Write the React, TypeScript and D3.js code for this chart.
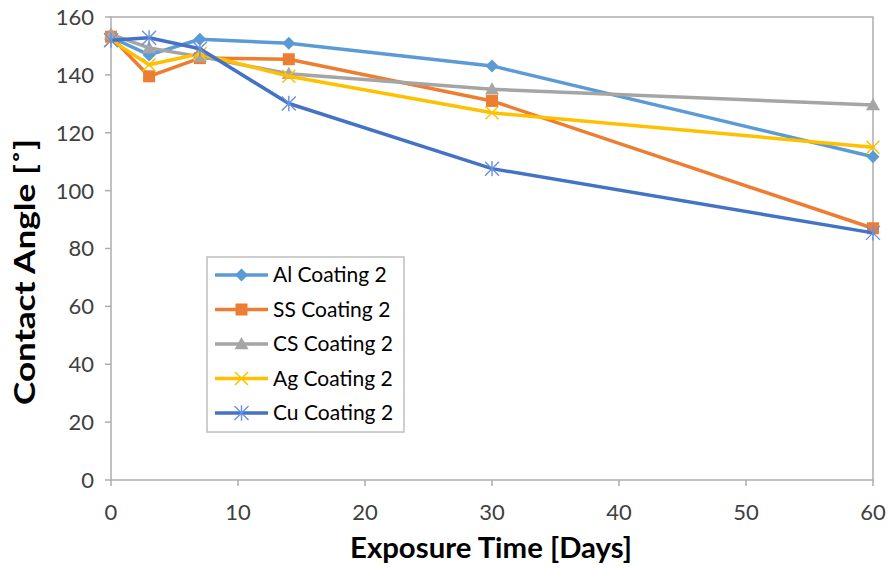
import React from "react";
import * as d3 from "d3";

const days = [0, 3, 7, 14, 30, 60];
const alCoating = [153, 146.9, 152.3, 150.9, 143.1, 111.7];
const ssCoating = [153.2, 139.5, 145.8, 145.4, 131, 87];
const csCoating = [154, 149.3, 146.3, 140.4, 135, 129.6];
const agCoating = [152, 143.5, 147.3, 139.5, 126.9, 115];
const cuCoating = [152, 152.8, 149, 130.1, 107.6, 85.4];

const seriesNames = ["Al Coating 2", "SS Coating 2", "CS Coating 2", "Ag Coating 2", "Cu Coating 2"];
const seriesColors = ["#5B9BD5", "#ED7D31", "#A5A5A5", "#FFC000", "#4472C4"];
const seriesMarkers = ["diamond", "square", "triangle", "x", "asterisk"];
const seriesValues = [alCoating, ssCoating, csCoating, agCoating, cuCoating];

const xTicks = [0, 10, 20, 30, 40, 50, 60];
const yTicks = [0, 20, 40, 60, 80, 100, 120, 140, 160];

const W = 889;
const H = 569;
const plot = { left: 111, right: 873, top: 17, bottom: 480 };
const FONT = "Lato, 'Open Sans', sans-serif";

function Marker({ type, x, y, color }: { type: string; x: number; y: number; color: string }) {
  if (type === "diamond") {
    const r = 6.5;
    return <path d={`M${x},${y - r}L${x + r},${y}L${x},${y + r}L${x - r},${y}Z`} fill={color} />;
  }
  if (type === "square") {
    const r = 6;
    return <rect x={x - r} y={y - r} width={2 * r} height={2 * r} fill={color} />;
  }
  if (type === "triangle") {
    const r = 7;
    return <path d={`M${x},${y - r}L${x + r},${y + r * 0.75}L${x - r},${y + r * 0.75}Z`} fill={color} />;
  }
  if (type === "x") {
    const r = 6.5;
    return (
      <path d={`M${x - r},${y - r}L${x + r},${y + r}M${x - r},${y + r}L${x + r},${y - r}`} stroke={color} strokeWidth={1.5} fill="none" />
    );
  }
  const r = 7;
  return (
    <path
      d={`M${x - r},${y - r}L${x + r},${y + r}M${x - r},${y + r}L${x + r},${y - r}M${x},${y - r * 1.1}L${x},${y + r * 1.1}`}
      stroke="#6A8FE0"
      strokeWidth={1.4}
      fill="none"
    />
  );
}

export default function App() {
  const x = d3.scaleLinear().domain([0, 60]).range([plot.left, plot.right]);
  const y = d3.scaleLinear().domain([0, 160]).range([plot.bottom, plot.top]);
  const line = d3
    .line<[number, number]>()
    .x((d) => x(d[0]))
    .y((d) => y(d[1]));

  const axisColor = "#ADADAD";
  const labelColor = "#404040";

  const legend = { left: 207, top: 257, right: 404, bottom: 432, rowStart: 275, rowStep: 34.5 };

  return (
    <div style={{ position: "absolute", left: 0, top: 0 }}>
      <svg width={W} height={H} style={{ display: "block", background: "#fff" }}>
        <rect
          x={plot.left}
          y={plot.top}
          width={plot.right - plot.left}
          height={plot.bottom - plot.top}
          fill="none"
          stroke={axisColor}
          strokeWidth={1.5}
        />
        {yTicks.map((t) => (
          <g key={"y" + t}>
            <line x1={plot.left - 6} x2={plot.left} y1={y(t)} y2={y(t)} stroke={axisColor} strokeWidth={1.5} />
            <text x={plot.left - 17} y={y(t)} dy="0.36em" textAnchor="end" fontFamily={FONT} fontSize={22} fill={labelColor}>
              {t}
            </text>
          </g>
        ))}
        {xTicks.map((t) => (
          <g key={"x" + t}>
            <line x1={x(t)} x2={x(t)} y1={plot.bottom} y2={plot.bottom + 6} stroke={axisColor} strokeWidth={1.5} />
            <text x={x(t)} y={520} textAnchor="middle" fontFamily={FONT} fontSize={22} fill={labelColor}>
              {t}
            </text>
          </g>
        ))}
        {seriesValues.map((vals, i) => {
          const pts = days.map((d, j) => [d, vals[j]] as [number, number]);
          return (
            <g key={seriesNames[i]}>
              <path d={line(pts) || ""} fill="none" stroke={seriesColors[i]} strokeWidth={3.5} strokeLinejoin="round" strokeLinecap="round" />
              {pts.map((p, j) => (
                <Marker key={j} type={seriesMarkers[i]} x={x(p[0])} y={y(p[1])} color={seriesColors[i]} />
              ))}
            </g>
          );
        })}
        <text
          x={491}
          y={558}
          textAnchor="middle"
          fontFamily={FONT}
          fontWeight="bold"
          fontSize={28}
          fill="#000"
          textLength={282}
          lengthAdjust="spacingAndGlyphs"
        >
          Exposure Time [Days]
        </text>
        <text
          transform={`translate(35, 272) rotate(-90)`}
          textAnchor="middle"
          fontFamily={FONT}
          fontWeight="bold"
          fontSize={29}
          fill="#000"
          textLength={266}
          lengthAdjust="spacingAndGlyphs"
        >
          Contact Angle [˚]
        </text>
        <rect
          x={legend.left}
          y={legend.top}
          width={legend.right - legend.left}
          height={legend.bottom - legend.top}
          fill="#fff"
          stroke="#BFBFBF"
          strokeWidth={1.5}
        />
        {seriesNames.map((name, i) => {
          const ry = legend.rowStart + i * legend.rowStep;
          return (
            <g key={"lg" + name}>
              <line x1={215} x2={268} y1={ry} y2={ry} stroke={seriesColors[i]} strokeWidth={3.5} />
              <Marker type={seriesMarkers[i]} x={241.5} y={ry} color={seriesColors[i]} />
              <text x={273} y={ry} dy="0.35em" fontFamily={FONT} fontSize={21} fill="#000">
                {name}
              </text>
            </g>
          );
        })}
      </svg>
    </div>
  );
}
